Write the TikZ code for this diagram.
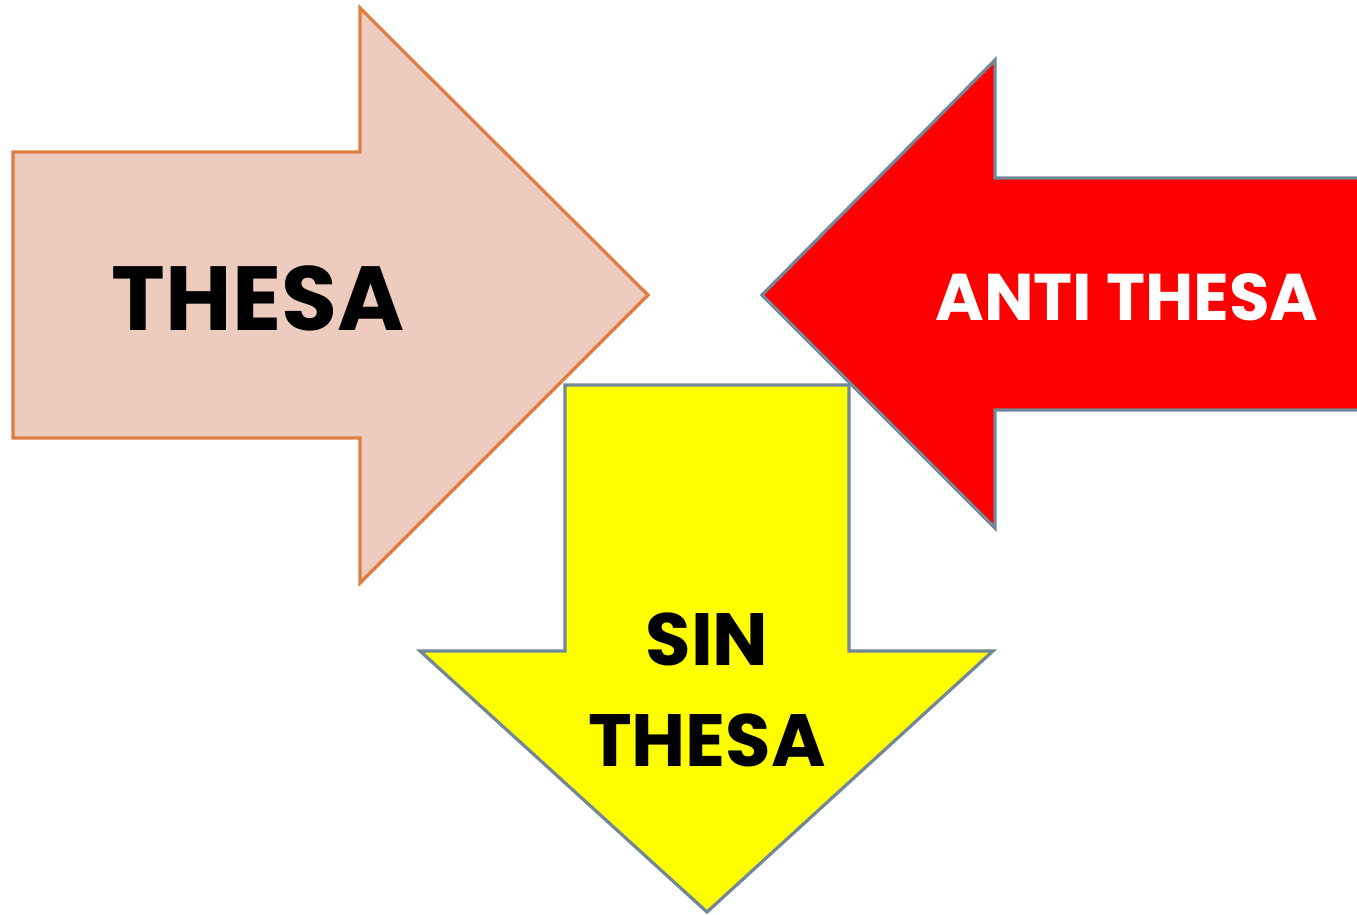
\documentclass[tikz,border=0pt]{standalone}
\usepackage{fontspec}
\setmainfont{Poppins}
\usepackage{tikz}

\definecolor{thesafill}{HTML}{EDCBBF}
\definecolor{thesaline}{HTML}{DF7D42}
\definecolor{arrowline}{HTML}{728799}
\definecolor{sinfill}{HTML}{FFFF00}

\begin{document}
\begin{tikzpicture}[x=0.5pt,y=-0.5pt,
  blockarrow/.style={line width=1.6pt, line join=miter},
  label/.style={font=\bfseries, align=center, inner sep=0pt}]
\useasboundingbox (0.000000, 0.000000) rectangle (1357.000000, 915.000000);
\filldraw[color=white] (0.000000, 0.000000) rectangle (1357.000000, 915.000000);
% Drawing arrows
% Arrow 1: thesa, pointing right
\draw[blockarrow, fill=thesafill, draw=thesaline] (13.000000,152.000000) -- (360.000000,152.000000) -- (360.000000,8.000000) -- (648.000000,295.000000) -- (360.000000,583.000000) -- (360.000000,438.000000) -- (13.000000,438.000000) -- cycle;
% Arrow 2: anti thesa, pointing left
\draw[blockarrow, fill=red, draw=arrowline] (1362.000000,178.000000) -- (995.000000,178.000000) -- (995.000000,60.000000) -- (762.000000,295.000000) -- (995.000000,528.000000) -- (995.000000,410.000000) -- (1362.000000,410.000000);
% Arrow 3: sin thesa, pointing down
\draw[blockarrow, fill=sinfill, draw=arrowline] (565.000000,385.000000) -- (849.000000,385.000000) -- (849.000000,651.000000) -- (993.000000,651.000000) -- (707.000000,912.000000) -- (420.000000,651.000000) -- (565.000000,651.000000) -- cycle;
% Done with arrows; drawing labels
\node[label, font=\bfseries\fontsize{45.5}{48}\selectfont] (thesa) at (258.000000,298.000000) {THESA};
\node[label, text=white, font=\bfseries\fontsize{33}{36}\selectfont] (antithesa) at (1127.000000,297.000000) {ANTI THESA};
\node[label, font=\bfseries\fontsize{37}{50.5}\selectfont] (sinthesa) at (707.000000,690.000000) {SIN\\THESA};
% Done with labels
\end{tikzpicture}
\end{document}
